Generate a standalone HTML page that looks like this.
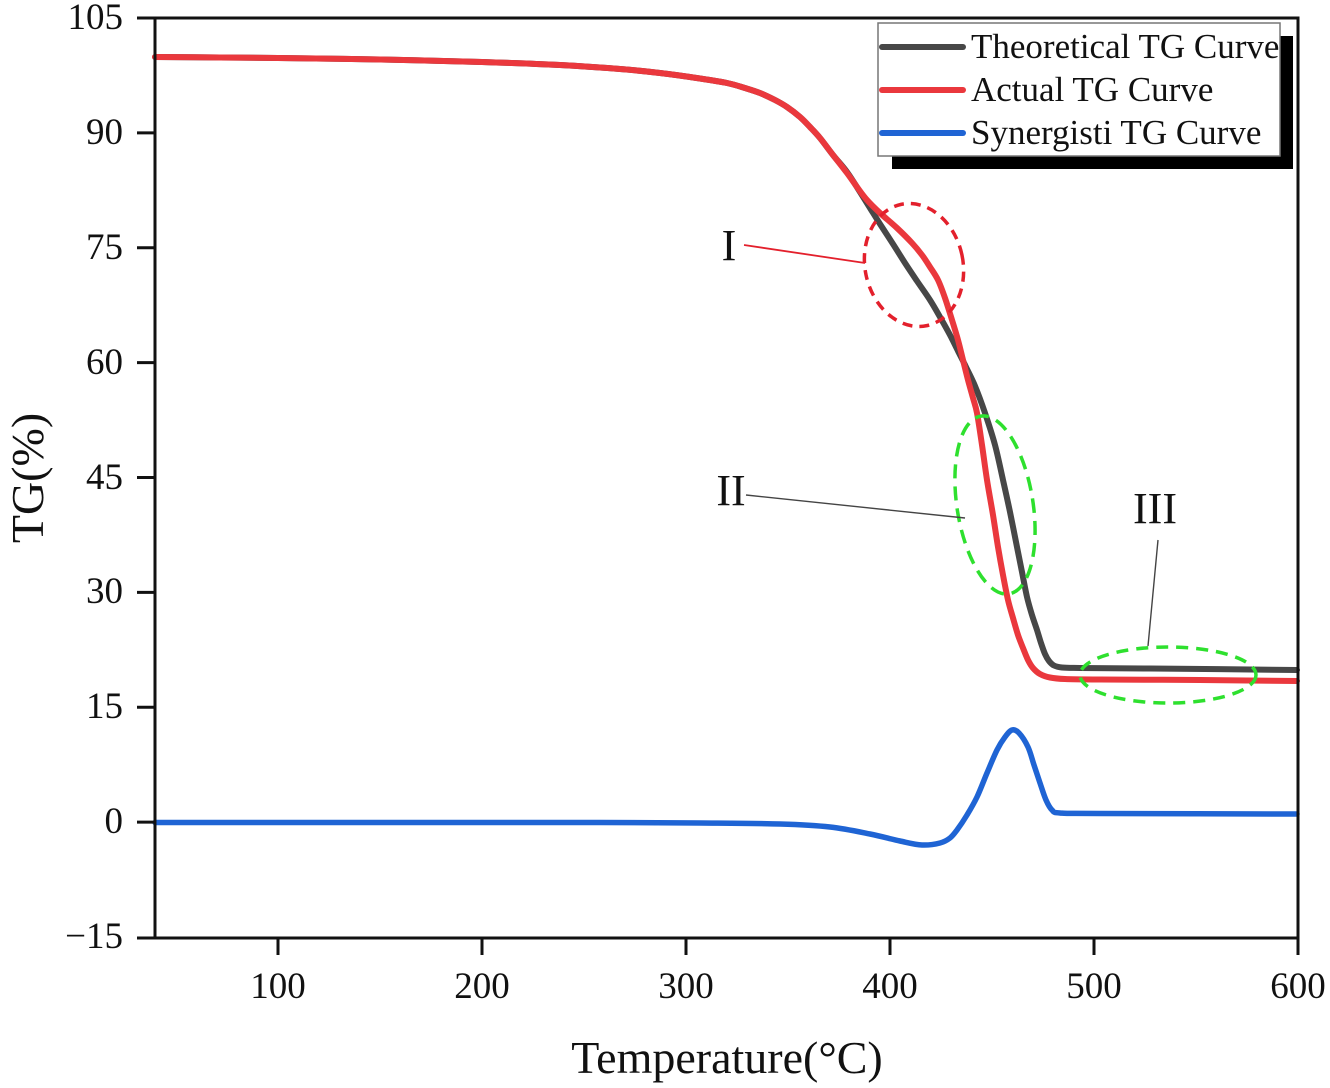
<!DOCTYPE html>
<html>
<head>
<meta charset="utf-8">
<style>
  html,body{margin:0;padding:0;background:#fff;}
  svg{display:block;}
  text{font-family:"Liberation Serif","Times New Roman",serif;fill:#111;}
</style>
</head>
<body>
<svg id="chart" width="1330" height="1088" viewBox="0 0 1330 1088" xmlns="http://www.w3.org/2000/svg">
  <rect x="0" y="0" width="1330" height="1088" fill="#fff"/>

  <!-- curves -->
  <polyline class="sm" fill="none" stroke="#474747" stroke-width="6" stroke-linejoin="round" stroke-linecap="round"
    points="155,57 220,57.5 278,58 380,59.5 482,62 560,65 620,69 660,73 700,78.5 727,83 745,88 760,93 775,100 787,107 800,117 810,127 820,138 833,155 847,172 860,192 870,208 880,224 893,244 905,263 917,281 930,300 940,317 950,335 958,351 966,367 975,386 985,413 995,445 1003,480 1010,512 1017,547 1022,572 1027,597 1032,615 1037,630 1041,643 1045,654 1049,661 1054,665.5 1062,667.5 1080,668 1150,668.5 1297,670"/>
  <polyline class="sm" fill="none" stroke="#ea383d" stroke-width="6" stroke-linejoin="round" stroke-linecap="round"
    points="155,57 220,57.5 278,58 380,59.5 482,62 560,65 620,69 660,73 700,78.5 727,83 745,88 760,93 775,100 787,107 800,117 810,127 820,138 833,155 847,173 857,187 867,200 880,213 897,228 912,243 922,255 930,267 938,280 945,298 952,320 958,340 963,360 968,380 973,398 977,413 982,445 987,480 993,515 998,547 1003,575 1008,600 1013,618 1018,635 1023,648 1028,660 1033,668 1040,674 1050,677.5 1065,679 1100,679.5 1200,680 1297,681"/>
  <polyline class="sm" fill="none" stroke="#1f64d4" stroke-width="5.5" stroke-linejoin="round" stroke-linecap="round"
    points="155,822.5 400,822.5 600,822.5 700,823 780,824 830,827 870,834 900,841 922,845 940,843 950,838 957,830 967,815 977,797 987,773 997,750 1005,737 1012,730 1019,733 1028,747 1034,765 1040,783 1046,800 1052,810 1060,813 1100,813.5 1297,814"/>

  <!-- annotation ellipses -->
  <ellipse cx="914" cy="265" rx="49" ry="62" transform="rotate(-12 914 265)" fill="none" stroke="#e3202c" stroke-width="3.5" stroke-dasharray="10 7"/>
  <ellipse cx="995" cy="505" rx="38" ry="90" transform="rotate(-9 995 505)" fill="none" stroke="#2ee02e" stroke-width="3.5" stroke-dasharray="14 8"/>
  <ellipse cx="1168" cy="675" rx="88" ry="28" fill="none" stroke="#2ee02e" stroke-width="3.5" stroke-dasharray="12 8"/>

  <!-- leader lines -->
  <line x1="744" y1="245" x2="865" y2="263" stroke="#e3202c" stroke-width="1.8"/>
  <line x1="746" y1="495" x2="965" y2="518" stroke="#444" stroke-width="1.4"/>
  <line x1="1158" y1="540" x2="1148" y2="646" stroke="#444" stroke-width="1.4"/>

  <text x="729" y="260" font-size="44" text-anchor="middle">I</text>
  <text x="731" y="505" font-size="44" text-anchor="middle">II</text>
  <text x="1155" y="523" font-size="44" text-anchor="middle">III</text>

  <!-- frame -->
  <rect x="155" y="18" width="1143" height="920" fill="none" stroke="#111" stroke-width="3"/>

  <!-- y ticks -->
  <g stroke="#111" stroke-width="3">
    <line x1="137" y1="18" x2="155" y2="18"/>
    <line x1="137" y1="132.9" x2="155" y2="132.9"/>
    <line x1="137" y1="247.8" x2="155" y2="247.8"/>
    <line x1="137" y1="362.6" x2="155" y2="362.6"/>
    <line x1="137" y1="477.5" x2="155" y2="477.5"/>
    <line x1="137" y1="592.4" x2="155" y2="592.4"/>
    <line x1="137" y1="707.3" x2="155" y2="707.3"/>
    <line x1="137" y1="822.1" x2="155" y2="822.1"/>
    <line x1="137" y1="938" x2="155" y2="938"/>
  </g>
  <g font-size="37" text-anchor="end">
    <text x="123" y="29">105</text>
    <text x="123" y="144">90</text>
    <text x="123" y="259">75</text>
    <text x="123" y="374">60</text>
    <text x="123" y="489">45</text>
    <text x="123" y="603">30</text>
    <text x="123" y="718">15</text>
    <text x="123" y="833">0</text>
    <text x="123" y="948">−15</text>
  </g>

  <!-- x ticks -->
  <g stroke="#111" stroke-width="3">
    <line x1="278" y1="938" x2="278" y2="955"/>
    <line x1="482" y1="938" x2="482" y2="955"/>
    <line x1="686" y1="938" x2="686" y2="955"/>
    <line x1="890" y1="938" x2="890" y2="955"/>
    <line x1="1094" y1="938" x2="1094" y2="955"/>
    <line x1="1298" y1="938" x2="1298" y2="955"/>
  </g>
  <g font-size="37" text-anchor="middle">
    <text x="278" y="998">100</text>
    <text x="482" y="998">200</text>
    <text x="686" y="998">300</text>
    <text x="890" y="998">400</text>
    <text x="1094" y="998">500</text>
    <text x="1298" y="998">600</text>
  </g>

  <!-- axis titles -->
  <text x="727" y="1073" font-size="46" text-anchor="middle">Temperature(°C)</text>
  <text transform="translate(43 478) rotate(-90)" font-size="46" text-anchor="middle">TG(%)</text>

  <!-- legend -->
  <rect x="892" y="36" width="401" height="133" fill="#000"/>
  <rect x="878" y="23" width="402" height="133" fill="#fff" stroke="#777" stroke-width="1.5"/>
  <g stroke-width="6" stroke-linecap="round">
    <line x1="882" y1="47" x2="963" y2="47" stroke="#474747"/>
    <line x1="882" y1="90" x2="963" y2="90" stroke="#ea383d"/>
    <line x1="882" y1="133" x2="963" y2="133" stroke="#1f64d4"/>
  </g>
  <g font-size="35">
    <text x="971" y="58">Theoretical TG Curve</text>
    <text x="971" y="101">Actual TG Curve</text>
    <text x="971" y="144">Synergisti TG Curve</text>
  </g>
</svg>
<script>
(function(){
  var ns="http://www.w3.org/2000/svg";
  var pls=document.querySelectorAll("polyline.sm");
  for(var k=0;k<pls.length;k++){
    var pl=pls[k];
    var raw=pl.getAttribute("points").trim().split(/\s+/).map(function(s){var a=s.split(",");return [parseFloat(a[0]),parseFloat(a[1])];});
    var n=raw.length;
    var d="M"+raw[0][0]+","+raw[0][1];
    for(var i=0;i<n-1;i++){
      var p0=raw[i>0?i-1:0],p1=raw[i],p2=raw[i+1],p3=raw[i+2<n?i+2:n-1];
      var t=1/6;
      var c1x=p1[0]+(p2[0]-p0[0])*t,c1y=p1[1]+(p2[1]-p0[1])*t;
      var c2x=p2[0]-(p3[0]-p1[0])*t,c2y=p2[1]-(p3[1]-p1[1])*t;
      d+=" C"+c1x.toFixed(2)+","+c1y.toFixed(2)+" "+c2x.toFixed(2)+","+c2y.toFixed(2)+" "+p2[0]+","+p2[1];
    }
    var path=document.createElementNS(ns,"path");
    path.setAttribute("d",d);
    ["fill","stroke","stroke-width","stroke-linejoin","stroke-linecap"].forEach(function(a){path.setAttribute(a,pl.getAttribute(a));});
    pl.parentNode.replaceChild(path,pl);
  }
})();
</script>
</body>
</html>
